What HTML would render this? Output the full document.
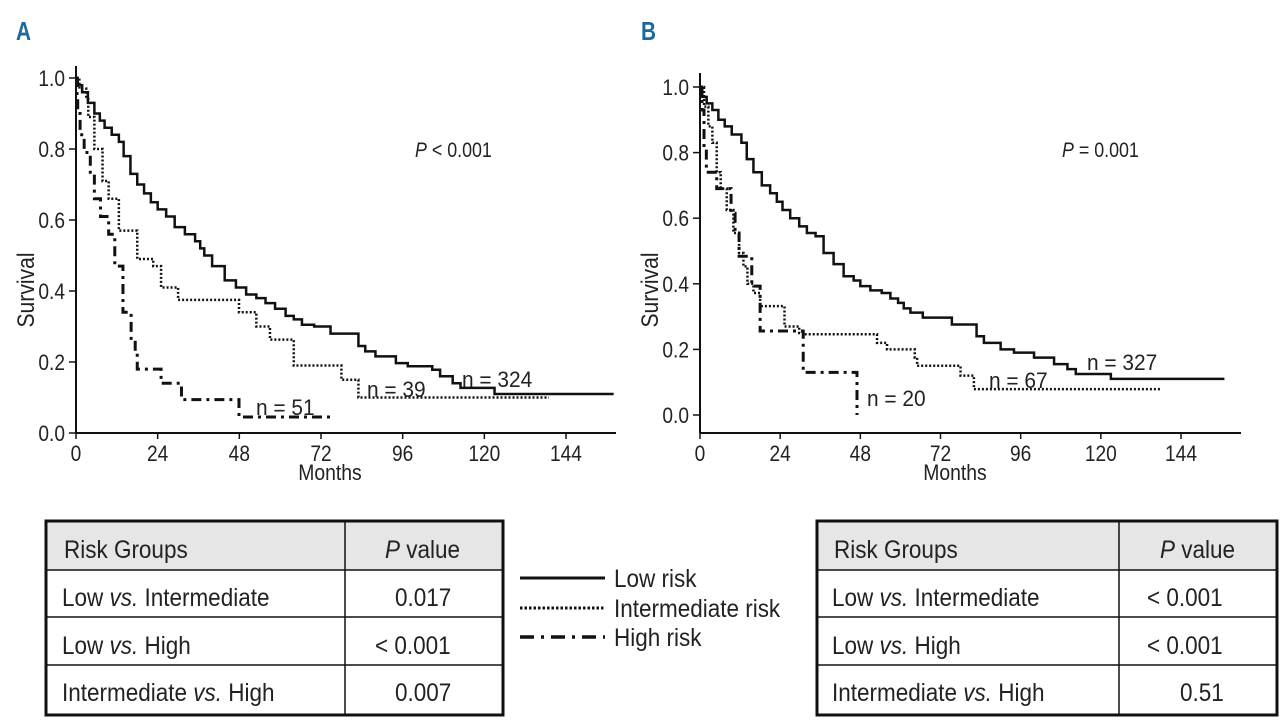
<!DOCTYPE html>
<html><head><meta charset="utf-8"><style>
html,body{margin:0;padding:0;background:#fff;}
svg{display:block;}
text{font-family:"Liberation Sans",sans-serif;fill:#222;}
</style></head><body>
<svg id="root" width="1280" height="724" viewBox="0 0 1280 724" xmlns="http://www.w3.org/2000/svg">
<g><text x="16" y="40" font-size="26" font-weight="bold" style="fill:#1b6a99" transform="translate(16,40) scale(0.8,1) translate(-16,-40)">A</text></g>
<g><text x="641" y="40" font-size="26" font-weight="bold" style="fill:#1b6a99" transform="translate(641,40) scale(0.8,1) translate(-641,-40)">B</text></g>
<g id="chartA"></g>
<g id="chartB"></g>

<g>
<rect x="46" y="521" width="457" height="49" fill="#e6e6e6"/>
<rect x="46" y="521" width="457" height="194" fill="none" stroke="#111" stroke-width="3"/>
<line x1="46" y1="570" x2="503" y2="570" stroke="#111" stroke-width="1.5"/>
<line x1="46" y1="617" x2="503" y2="617" stroke="#111" stroke-width="1.5"/>
<line x1="46" y1="665" x2="503" y2="665" stroke="#111" stroke-width="1.5"/>
<line x1="345" y1="521" x2="345" y2="715" stroke="#111" stroke-width="1.5"/>
<g font-size="25">
<text x="64" y="558" transform="translate(64,0) scale(0.9,1) translate(-64,0)">Risk Groups</text>
<text x="385" y="558" transform="translate(385,0) scale(0.9,1) translate(-385,0)"><tspan font-style="italic">P</tspan> value</text>
<text x="62" y="606" transform="translate(62,0) scale(0.9,1) translate(-62,0)">Low <tspan font-style="italic">vs.</tspan> Intermediate</text>
<text x="395" y="606" transform="translate(395,0) scale(0.9,1) translate(-395,0)">0.017</text>
<text x="62" y="654" transform="translate(62,0) scale(0.9,1) translate(-62,0)">Low <tspan font-style="italic">vs.</tspan> High</text>
<text x="375" y="654" transform="translate(375,0) scale(0.9,1) translate(-375,0)">&lt; 0.001</text>
<text x="62" y="701" transform="translate(62,0) scale(0.9,1) translate(-62,0)">Intermediate <tspan font-style="italic">vs.</tspan> High</text>
<text x="395" y="701" transform="translate(395,0) scale(0.9,1) translate(-395,0)">0.007</text>
</g></g>

<g>
<line x1="520" y1="578" x2="605" y2="578" stroke="#111" stroke-width="3"/>
<line x1="520" y1="608" x2="605" y2="608" stroke="#111" stroke-width="3" stroke-dasharray="2.5,2"/>
<line x1="520" y1="637" x2="605" y2="637" stroke="#111" stroke-width="3.5" stroke-dasharray="14,7,3,7"/>
<g font-size="25">
<text x="614" y="587" transform="translate(614,0) scale(0.9,1) translate(-614,0)">Low risk</text>
<text x="614" y="617" transform="translate(614,0) scale(0.9,1) translate(-614,0)">Intermediate risk</text>
<text x="614" y="646" transform="translate(614,0) scale(0.9,1) translate(-614,0)">High risk</text>
</g></g>

<g>
<rect x="817" y="521" width="460" height="49" fill="#e6e6e6"/>
<rect x="817" y="521" width="460" height="194" fill="none" stroke="#111" stroke-width="3"/>
<line x1="817" y1="570" x2="1277" y2="570" stroke="#111" stroke-width="1.5"/>
<line x1="817" y1="617" x2="1277" y2="617" stroke="#111" stroke-width="1.5"/>
<line x1="817" y1="665" x2="1277" y2="665" stroke="#111" stroke-width="1.5"/>
<line x1="1119" y1="521" x2="1119" y2="715" stroke="#111" stroke-width="1.5"/>
<g font-size="25">
<text x="834" y="558" transform="translate(834,0) scale(0.9,1) translate(-834,0)">Risk Groups</text>
<text x="1160" y="558" transform="translate(1160,0) scale(0.9,1) translate(-1160,0)"><tspan font-style="italic">P</tspan> value</text>
<text x="832" y="606" transform="translate(832,0) scale(0.9,1) translate(-832,0)">Low <tspan font-style="italic">vs.</tspan> Intermediate</text>
<text x="1147" y="606" transform="translate(1147,0) scale(0.9,1) translate(-1147,0)">&lt; 0.001</text>
<text x="832" y="654" transform="translate(832,0) scale(0.9,1) translate(-832,0)">Low <tspan font-style="italic">vs.</tspan> High</text>
<text x="1147" y="654" transform="translate(1147,0) scale(0.9,1) translate(-1147,0)">&lt; 0.001</text>
<text x="832" y="701" transform="translate(832,0) scale(0.9,1) translate(-832,0)">Intermediate <tspan font-style="italic">vs.</tspan> High</text>
<text x="1180" y="701" transform="translate(1180,0) scale(0.9,1) translate(-1180,0)">0.51</text>
</g></g>
</svg>
<script>
// ---- data: x tick labels, y tick labels ----
const xTicks = [0, 24, 48, 72, 96, 120, 144];
const yTicks = [0.0, 0.2, 0.4, 0.6, 0.8, 1.0];
// Panel A series (months of drop, survival after drop)
const aLowT = [0.5,1.8,3.5,5.4,7,8.4,10.5,12.6,14,16,18,20,22,24,26.5,29,32,35,36.5,37.7,40,43.7,47,50,53,55.7,58.5,61.6,64,66.4,70,74.8,83,85,88,94,97.5,104.7,107,110.7,113,123];
const aLowS = [0.98,0.96,0.93,0.90,0.88,0.86,0.84,0.82,0.78,0.73,0.70,0.675,0.65,0.63,0.61,0.58,0.56,0.54,0.52,0.50,0.47,0.43,0.41,0.39,0.38,0.366,0.35,0.33,0.32,0.305,0.30,0.28,0.245,0.23,0.216,0.197,0.188,0.178,0.16,0.14,0.127,0.11];
const aLowEnd = 158;
const aIntT = [1,3,3.6,5.4,7.8,9.6,12.6,18,22.7,25,30,47.9,53,57,64,78,83];
const aIntS = [0.97,0.94,0.89,0.80,0.71,0.66,0.57,0.49,0.47,0.41,0.375,0.34,0.30,0.263,0.19,0.15,0.10];
const aIntEnd = 139;
const aHighT = [0.3,0.5,1.2,2.4,4.2,5.4,7.2,9.6,11.4,13.8,16.2,17.4,18,25,31,47.9];
const aHighS = [0.95,0.90,0.84,0.79,0.73,0.66,0.61,0.56,0.47,0.34,0.26,0.23,0.18,0.14,0.094,0.045];
const aHighEnd = 75.4;
// Panel B series
const bLowT = [0.5,2,3.7,5.5,7.4,9.5,12.4,14,16,18.5,21,23,24.7,27,29.7,32,34.6,37,40,43,46,48,51,54.4,57,59.3,61,63,66.7,75.4,82.8,85,90,94,100,106,110,112.5,123];
const bLowS = [0.97,0.95,0.93,0.90,0.88,0.855,0.83,0.78,0.74,0.70,0.676,0.65,0.625,0.60,0.575,0.555,0.545,0.494,0.46,0.423,0.41,0.393,0.38,0.372,0.355,0.342,0.325,0.312,0.297,0.276,0.24,0.22,0.20,0.19,0.175,0.155,0.14,0.125,0.11];
const bLowEnd = 157;
const bIntT = [1.2,2.5,3.7,5,6.2,8,10,11.7,13,14.2,16,18,25.3,29.7,30.9,53,56,64.3,65,78,82];
const bIntS = [0.94,0.88,0.83,0.74,0.69,0.625,0.555,0.494,0.453,0.40,0.372,0.332,0.27,0.25,0.246,0.22,0.20,0.175,0.15,0.12,0.079];
const bIntEnd = 138;
const bHighT = [0.6,1.2,1.9,5,9.3,10.5,11.7,15.5,18,30.9,47];
const bHighS = [0.93,0.81,0.74,0.69,0.615,0.555,0.484,0.393,0.256,0.13,0.0];
const bHighEnd = 47;

const NS = 'http://www.w3.org/2000/svg';
function mk(tag, attrs, parent){const e=document.createElementNS(NS,tag);for(const k in attrs)e.setAttribute(k,attrs[k]);parent.appendChild(e);return e;}
function condText(parent,x,y,str,size,anchor,sc){const t=mk('text',{x:x,y:y,'font-size':size,'text-anchor':anchor||'start',transform:`translate(${x},0) scale(${sc||0.82},1) translate(${-x},0)`},parent);t.textContent=str;return t;}

function drawPanel(g, cfg){
  const X = m => cfg.x0 + (m/144)*(cfg.x144-cfg.x0);
  const Y = s => cfg.y0 - s*(cfg.y0-cfg.y1);
  const ax = mk('line',{x1:cfg.x0,y1:cfg.axTop,x2:cfg.x0,y2:cfg.base,stroke:'#111','stroke-width':2},g);
  
  
  const bx = mk('line',{x1:cfg.x0,y1:cfg.base,x2:cfg.axEnd,y2:cfg.base,stroke:'#111','stroke-width':2},g);
  
  
  xTicks.forEach(v=>{
    mk('line',{x1:X(v),y1:cfg.base,x2:X(v),y2:cfg.base+6,stroke:'#111','stroke-width':1.5},g);
    const t=condText(g,X(v),cfg.base+28,String(v),22,'middle',0.87);
    
    
  });
  yTicks.forEach(v=>{
    mk('line',{x1:cfg.x0-7,y1:Y(v),x2:cfg.x0,y2:Y(v),stroke:'#111','stroke-width':1.5},g);
    const t=condText(g,cfg.x0-11,Y(v)+8,v.toFixed(1),22,'end',0.87);
    
    
  });
  const mt=condText(g,cfg.monthsX,cfg.base+47,'Months',22,'middle',0.88);
  
  
  const st=mk('text',{x:0,y:0,'font-size':24,'text-anchor':'middle',transform:`translate(${cfg.survX},${cfg.survY}) rotate(-90) scale(0.88,1)`},g);
  st.textContent='Survival';
  
  
  cfg.series.forEach(s=>{
    let d=`M${X(0)},${Y(1)}`;
    for(let i=0;i<s.t.length;i++){d+=` H${X(s.t[i])} V${Y(s.s[i])}`;}
    d+=` H${X(s.end)}`;
    const p=mk('path',{d:d,fill:'none',stroke:'#111','stroke-width':s.w,'stroke-dasharray':s.dash},g);
    
    
  });
  cfg.labels.forEach(l=>{
    const t=condText(g,l.x,l.y,l.txt,22,'start',0.95);
    
    
  });
  const pt=mk('text',{x:cfg.px,y:157,'font-size':21,transform:`translate(${cfg.px},0) scale(0.85,1) translate(${-cfg.px},0)`},g);
  pt.innerHTML='<tspan font-style="italic">P</tspan>'+cfg.ptxt;
  
  
}

drawPanel(document.getElementById('chartA'),{
  x0:76,x144:566,axEnd:616,y0:433,y1:78,base:433,axTop:66,monthsX:330,survX:34,survY:290,px:415,ptxt:' &lt; 0.001',
  series:[
    {t:aLowT,s:aLowS,end:aLowEnd,w:2.5,dash:'none',name:'low-risk-curve-a'},
    {t:aIntT,s:aIntS,end:aIntEnd,w:2.5,dash:'2,2',name:'intermediate-risk-curve-a'},
    {t:aHighT,s:aHighS,end:aHighEnd,w:3,dash:'10,5,3,5',name:'high-risk-curve-a'}],
  labels:[{x:462,y:387,txt:'n = 324',name:'n-low-a'},{x:367,y:397,txt:'n = 39',name:'n-intermediate-a'},{x:256,y:415,txt:'n = 51',name:'n-high-a'}]
});
drawPanel(document.getElementById('chartB'),{
  x0:700,x144:1181,axEnd:1241,y0:415,y1:87,base:433,axTop:73,monthsX:955,survX:658,survY:290,px:1062,ptxt:' = 0.001',
  series:[
    {t:bLowT,s:bLowS,end:bLowEnd,w:2.5,dash:'none',name:'low-risk-curve-b'},
    {t:bIntT,s:bIntS,end:bIntEnd,w:2.5,dash:'2,2',name:'intermediate-risk-curve-b'},
    {t:bHighT,s:bHighS,end:bHighEnd,w:3,dash:'10,5,3,5',name:'high-risk-curve-b'}],
  labels:[{x:1087,y:370,txt:'n = 327',name:'n-low-b'},{x:989,y:388,txt:'n = 67',name:'n-intermediate-b'},{x:867,y:406,txt:'n = 20',name:'n-high-b'}]
});
</script>
</body></html>
